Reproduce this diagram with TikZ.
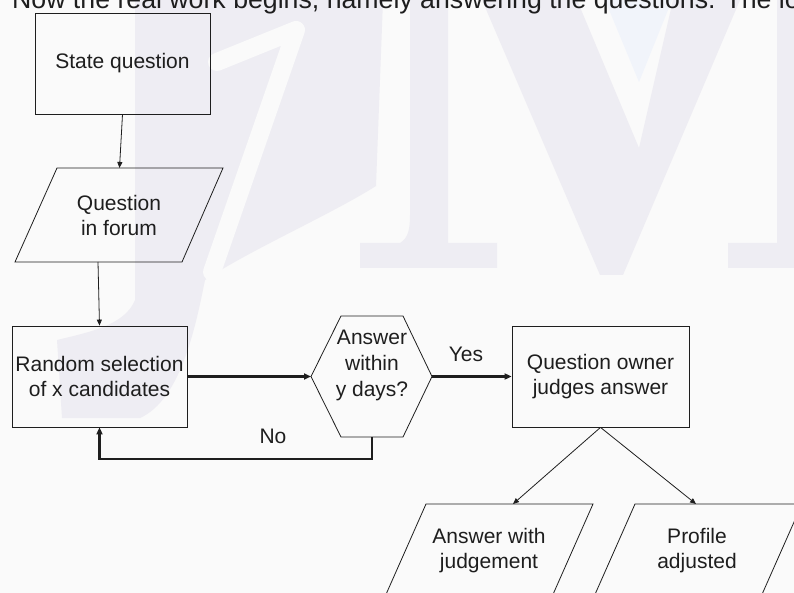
\documentclass[tikz,border=0pt]{standalone}
\usepackage{fontspec}
\setmainfont{Liberation Sans}
\usetikzlibrary{arrows.meta}
\definecolor{bgc}{HTML}{FAFAFA}
\definecolor{wm}{HTML}{EEEDF3}
\definecolor{wmb}{HTML}{F1F4FA}
\definecolor{ink}{HTML}{1E1E1E}
\tikzset{
  lbl/.style={font=\fontsize{21}{25}\selectfont, align=center, inner sep=0pt, text=ink},
  boxn/.style={draw=ink, line width=0.8pt, lbl},
  shp/.style={draw=ink, line width=0.8pt},
  conn/.style={draw=ink, line width=0.8pt, -{Triangle[length=6pt,width=5pt]}},
  conk/.style={draw=ink, line width=2.4pt, -{Triangle[length=7pt,width=6pt]}},
}
\begin{document}
\begin{tikzpicture}[x=1pt,y=-1pt]
\useasboundingbox (0,0) rectangle (794,593);
\begin{scope}
\clip (0,0) rectangle (794,593);
\fill[bgc] (0,0) rectangle (794,593);
% watermark J
\fill[wm] (135,0) -- (383,0) -- (376,186) .. controls (330,215) and (250,250) .. (205,280)
  .. controls (195,330) and (180,400) .. (140,418) -- (62,418) -- (57,340)
  .. controls (90,332) and (125,325) .. (135,300) -- cycle;
\draw[bgc, line width=18pt, line cap=round, line join=round] (217,62) -- (296,30) -- (212,272);
% watermark V and stems
\fill[wm] (410,0) -- (448,0) -- (448,243) -- (497,243) -- (497,268) -- (360,268) -- (360,243) -- (400,243)
  .. controls (408,238) and (410,230) .. (410,215) -- cycle;
\fill[wm] (482,0) -- (577,0) -- (639,148) -- (673,0) -- (740,0) -- (623,275) -- (600,275) -- cycle;
\fill[wmb] (605,0) -- (672,0) -- (639,82) -- cycle;
\fill[wm] (777,0) -- (794,0) -- (794,268) -- (728,268) -- (728,243) -- (777,243) -- cycle;

% title line (cropped)
\node[anchor=base west, inner sep=0pt, text=ink, font=\fontsize{26.7}{32}\selectfont] (title) at (12,8.5)
  {Now the real work begins, namely answering the questions. The lo};

% State question
\node[boxn, minimum width=175pt, minimum height=101pt] (sq) at (122.5,63.5) {State question};

% Question in forum
\draw[shp] (15,262) -- (57,168) -- (223,168) -- (182,262) -- cycle;
\node[lbl] (qf) at (119,215) {Question\\in forum};
\coordinate (qfT) at (119.5,168);
\coordinate (qfB) at (98,262);

% Random selection
\node[boxn, minimum width=175pt, minimum height=101pt] (rs) at (99.5,376.5) {Random selection\\of x candidates};

% Hexagon
\draw[shp] (311,376.5) -- (341,316) -- (403,316) -- (432,376.5) -- (403,437) -- (341,437) -- cycle;
\node[lbl, font=\fontsize{21}{26}\selectfont] (hx) at (372,365) {Answer\\within\\y days?};
\coordinate (hxW) at (311,376.5);
\coordinate (hxE) at (432,376.5);
\coordinate (hxS) at (372,437);
\coordinate (lp) at (372,459);

% Question owner
\node[boxn, minimum width=177pt, minimum height=101pt] (ow) at (600.5,376.5) {Question owner\\judges answer};

% bottom parallelograms
\draw[shp] (384.4,598) -- (426,504) -- (593,504) -- (551.4,598) -- cycle;
\node[lbl] (aj) at (489,551) {Answer with\\judgement};
\draw[shp] (593.4,598) -- (635,504) -- (802,504) -- (760.4,598) -- cycle;
\node[lbl] (pa) at (697,551) {Profile\\adjusted};
\coordinate (ajT) at (513,504);
\coordinate (paT) at (696,504);

% connectors
\draw[conn] (sq.south) -- (qfT);
\draw[conn] (qfB) -- (rs.north);
\draw[conk] (rs.east) -- (hxW);
\draw[conk] (hxE) -- (ow.west);
\draw[conk] (hxS) -- (lp) -| (rs.south);
\draw[conn] (ow.south) -- (ajT);
\draw[conn] (ow.south) -- (paT);

% labels
\node[lbl] (yes) at (466,354) {Yes};
\node[lbl] (no) at (273,436) {No};
\end{scope}
\end{tikzpicture}
\end{document}
